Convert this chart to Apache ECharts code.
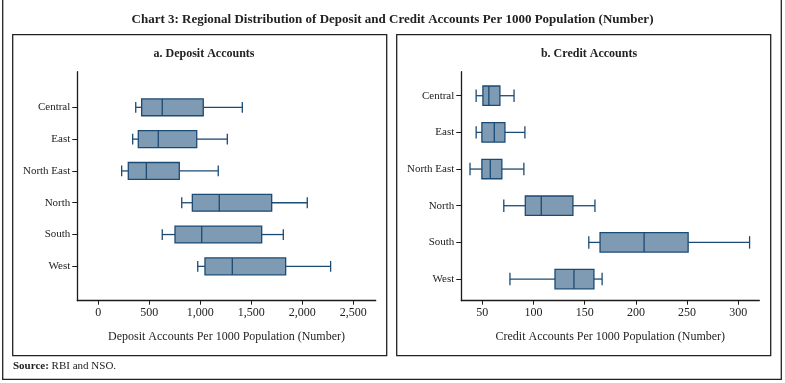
<!DOCTYPE html>
<html>
<head>
<meta charset="utf-8">
<script src="https://cdn.jsdelivr.net/npm/echarts@6/dist/echarts.min.js"></script>
<style>
html,body{margin:0;padding:0;background:#fff;}
#chart{width:785px;height:383px;}
</style>
</head>
<body>
<div id="chart"></div>
<script>
// ---- data ----
const categories = ['Central', 'East', 'North East', 'North', 'South', 'West'];

const depositMin    = [367, 337, 229, 818, 627, 975];
const depositQ1     = [425, 392, 294, 922, 752, 1046];
const depositMedian = [627, 588, 471, 1186, 1014, 1314];
const depositQ3     = [1029, 965, 794, 1700, 1602, 1837];
const depositMax    = [1412, 1265, 1176, 2049, 1814, 2278];

const creditMin    = [44, 44, 38, 71, 154, 77];
const creditQ1     = [50.6, 49.6, 49.6, 92, 165, 121];
const creditMedian = [56.4, 61.7, 57.8, 107.6, 208, 139.5];
const creditQ3     = [67.2, 72.1, 69.1, 138.5, 251, 159];
const creditMax    = [81, 91.6, 90.6, 160, 311, 167];

const depositTicks = [0, 500, 1000, 1500, 2000, 2500];
const creditTicks  = [50, 100, 150, 200, 250, 300];

const titleText = 'Chart 3: Regional Distribution of Deposit and Credit Accounts Per 1000 Population (Number)';
const depositTitle = 'a. Deposit Accounts';
const creditTitle = 'b. Credit Accounts';
const depositAxisName = 'Deposit Accounts Per 1000 Population (Number)';
const creditAxisName = 'Credit Accounts Per 1000 Population (Number)';

// ---- build ----
const FONT = 'Liberation Serif';
const FILL = '#7f9bb4';
const STROKE = '#1b4a73';
const AXIS = '#1a1a1a';

function rows(mn, q1, md, q3, mx) {
  return categories.map((c, i) => [i, mn[i], q1[i], md[i], q3[i], mx[i]]);
}

function renderBox(params, api) {
  const idx = api.value(0);
  const pMin = api.coord([api.value(1), idx]);
  const pQ1 = api.coord([api.value(2), idx]);
  const pMed = api.coord([api.value(3), idx]);
  const pQ3 = api.coord([api.value(4), idx]);
  const pMax = api.coord([api.value(5), idx]);
  const unit = Math.abs(api.size([0, 1])[1]);
  const hb = unit * 0.265;
  const hc = unit * 0.17;
  const y = pMed[1];
  const ls = { stroke: STROKE, lineWidth: 1.3 };
  return {
    type: 'group',
    children: [
      { type: 'line', shape: { x1: pMin[0], y1: y, x2: pQ1[0], y2: y }, style: ls },
      { type: 'line', shape: { x1: pQ3[0], y1: y, x2: pMax[0], y2: y }, style: ls },
      { type: 'line', shape: { x1: pMin[0], y1: y - hc, x2: pMin[0], y2: y + hc }, style: ls },
      { type: 'line', shape: { x1: pMax[0], y1: y - hc, x2: pMax[0], y2: y + hc }, style: ls },
      { type: 'rect', shape: { x: pQ1[0], y: y - hb, width: pQ3[0] - pQ1[0], height: 2 * hb },
        style: { fill: FILL, stroke: STROKE, lineWidth: 1.3 } },
      { type: 'line', shape: { x1: pMed[0], y1: y - hb, x2: pMed[0], y2: y + hb }, style: ls }
    ]
  };
}

function xAxisDef(gi, min, max, ticks, name) {
  return {
    type: 'value', gridIndex: gi, min: min, max: max,
    splitLine: { show: false },
    axisLine: { show: true, onZero: false, lineStyle: { color: AXIS, width: 1.3 } },
    axisTick: { show: true, length: 4, customValues: ticks, lineStyle: { color: AXIS, width: 1 } },
    axisLabel: { customValues: ticks, margin: 6, fontFamily: FONT, fontSize: 12, color: '#222',
      formatter: v => Number(v).toLocaleString('en-US') },
    name: name, nameLocation: 'middle', nameGap: 30,
    nameTextStyle: { fontFamily: FONT, fontSize: 12, color: '#222' }
  };
}

function yAxisDef(gi, min, max) {
  const idx = categories.map((c, i) => i);
  return {
    type: 'value', gridIndex: gi, inverse: true, min: min, max: max,
    splitLine: { show: false },
    axisLine: { show: true, onZero: false, lineStyle: { color: AXIS, width: 1.3 } },
    axisTick: { show: true, length: 5, customValues: idx, lineStyle: { color: AXIS, width: 1 } },
    axisLabel: { customValues: idx, margin: 7, fontFamily: FONT, fontSize: 11, color: '#222',
      formatter: v => categories[Math.round(v)] || '' }
  };
}

const chart = echarts.init(document.getElementById('chart'), null, { renderer: 'canvas' });

const option = {
  backgroundColor: '#fff',
  animation: false,
  title: [
    { text: titleText, left: 'center', top: 8,
      textStyle: { fontFamily: FONT, fontSize: 13, fontWeight: 'bold', color: '#222' } },
    { text: depositTitle, left: 199, top: 43, textAlign: 'center',
      textStyle: { fontFamily: FONT, fontSize: 12, fontWeight: 'bold', color: '#222' } },
    { text: creditTitle, left: 584, top: 43, textAlign: 'center',
      textStyle: { fontFamily: FONT, fontSize: 12, fontWeight: 'bold', color: '#222' } }
  ],
  grid: [
    { left: 77.3, right: 409.3, top: 71.7, bottom: 82.3 },
    { left: 461.3, right: 25.7, top: 71.7, bottom: 82.3 }
  ],
  xAxis: [
    xAxisDef(0, -206, 2720, depositTicks, depositAxisName),
    xAxisDef(1, 29.5, 320.5, creditTicks, creditAxisName)
  ],
  yAxis: [
    yAxisDef(0, -1.12, 6.08),
    yAxisDef(1, -0.655, 5.59)
  ],
  series: [
    { type: 'custom', xAxisIndex: 0, yAxisIndex: 0, renderItem: renderBox,
      encode: { x: [1, 2, 3, 4, 5], y: 0 },
      data: rows(depositMin, depositQ1, depositMedian, depositQ3, depositMax) },
    { type: 'custom', xAxisIndex: 1, yAxisIndex: 1, renderItem: renderBox,
      encode: { x: [1, 2, 3, 4, 5], y: 0 },
      data: rows(creditMin, creditQ1, creditMedian, creditQ3, creditMax) }
  ],
  graphic: [
    { type: 'rect', shape: { x: 12.7, y: 34.7, width: 374, height: 321 },
      style: { fill: 'none', stroke: '#222', lineWidth: 1.3 }, z: -1 },
    { type: 'rect', shape: { x: 396.7, y: 34.7, width: 374, height: 321 },
      style: { fill: 'none', stroke: '#222', lineWidth: 1.3 }, z: -1 },
    { type: 'polyline', shape: { points: [[2.7, 0], [2.7, 379.3], [781.3, 379.3], [781.3, 0]] },
      style: { fill: 'none', stroke: '#222', lineWidth: 1.3 }, z: -1 },
    { type: 'text', left: 13, top: 361,
      style: { text: '{b|Source:} RBI and NSO.', fontFamily: FONT, fontSize: 11, fill: '#222',
        rich: { b: { fontFamily: FONT, fontSize: 11, fontWeight: 'bold', fill: '#222' } } } }
  ]
};
chart.setOption(option);
</script>
</body>
</html>
